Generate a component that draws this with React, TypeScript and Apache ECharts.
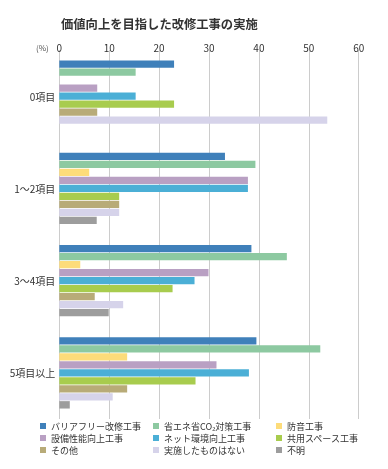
import React, { useEffect, useRef } from "react";
import * as echarts from "echarts";

const categories = ["0項目", "1～2項目", "3～4項目", "5項目以上"];
const seriesNames = [
  "バリアフリー改修工事",
  "省エネ省CO₂対策工事",
  "防音工事",
  "設備性能向上工事",
  "ネット環境向上工事",
  "共用スペース工事",
  "その他",
  "実施したものはない",
  "不明",
];
const colors = [
  "#3f80ba",
  "#8dc9a1",
  "#fddc7a",
  "#b9a0c3",
  "#4bafd6",
  "#a8cc4e",
  "#b8ab78",
  "#d6d3ea",
  "#9d9d9d",
];
const barrierFree = [23.0, 33.2, 38.5, 39.5];
const energy = [15.3, 39.3, 45.6, 52.3];
const soundproof = [0, 6.0, 4.2, 13.6];
const equipment = [7.6, 37.8, 29.9, 31.5];
const network = [15.3, 37.8, 27.1, 38.0];
const commonSpace = [23.0, 12.0, 22.7, 27.3];
const other = [7.6, 12.0, 7.1, 13.6];
const none = [53.7, 12.0, 12.8, 10.7];
const unknown = [0, 7.5, 9.9, 2.1];
const values = [barrierFree, energy, soundproof, equipment, network, commonSpace, other, none, unknown];
const xTicks = { min: 0, max: 60, interval: 10 };

const FONT = "'Noto Sans CJK JP', 'Noto Sans', sans-serif";

export default function App() {
  const ref = useRef<HTMLDivElement>(null);
  useEffect(() => {
    if (!ref.current) return;
    const chart = echarts.init(ref.current, null, { renderer: "svg" });
    const legendCol = (idx: number[], left: number) => ({
      orient: "vertical",
      left,
      top: 421,
      height: 45,
      itemWidth: 6,
      itemHeight: 6,
      itemGap: 2,
      itemTextGap: 2,
      icon: "rect",
      padding: 0,
      data: idx.map((i) => seriesNames[i]),
      textStyle: { fontSize: 9, color: "#333", fontFamily: FONT, lineHeight: 10 },
    });
    chart.setOption({
      animation: false,
      textStyle: { fontFamily: FONT },
      title: {
        text: "価値向上を目指した改修工事の実施",
        left: 61,
        top: 18,
        padding: 0,
        textStyle: { fontSize: 12.3, fontWeight: "bold", color: "#333", fontFamily: FONT },
      },
      graphic: [
        {
          type: "text",
          left: 36,
          top: 43,
          style: { text: "(%)", fontSize: 8, fill: "#555", fontFamily: FONT },
        },
      ],
      legend: [legendCol([0, 3, 6], 40), legendCol([1, 4, 7], 153), legendCol([2, 5, 8], 276)],
      grid: { left: 59.3, right: 29.3, top: 50, height: 369, containLabel: false },
      xAxis: {
        type: "value",
        position: "top",
        min: xTicks.min,
        max: xTicks.max,
        interval: xTicks.interval,
        axisLine: { show: false },
        axisTick: { show: false },
        splitLine: { lineStyle: { color: "#cccccc", width: 1 } },
        axisLabel: { fontSize: 10, color: "#333", margin: -2, fontFamily: FONT },
      },
      yAxis: {
        type: "category",
        inverse: true,
        data: categories,
        axisLine: { show: false },
        axisTick: { show: false },
        axisLabel: { fontSize: 10, color: "#333", margin: 4, fontFamily: FONT },
      },
      series: seriesNames.map((name, i) => ({
        name,
        type: "bar",
        data: values[i],
        barWidth: 7.4,
        barGap: "8%",
        itemStyle: { color: colors[i] },
      })),
    });
    return () => chart.dispose();
  }, []);
  return (
    <div
      ref={ref}
      style={{ position: "fixed", left: 0, top: 0, width: 388, height: 469 }}
    />
  );
}
